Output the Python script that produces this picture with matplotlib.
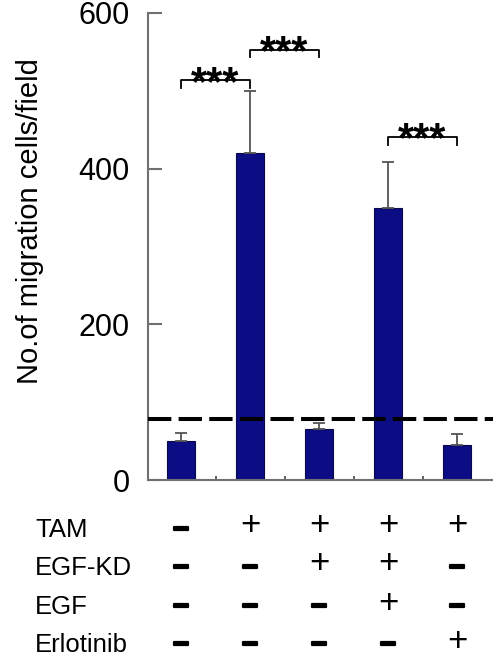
import numpy as np
import matplotlib
matplotlib.use("Agg")
import matplotlib.pyplot as plt
import matplotlib.transforms as mtransforms
import matplotlib.patheffects as pe

plt.rcParams['font.family'] = ['Liberation Sans', 'DejaVu Sans']

# data
means = [50, 420, 66, 350, 45]
errs = [10, 80, 7, 58, 14]
baseline = 78
row_names = ['TAM', 'EGF-KD', 'EGF', 'Erlotinib']
row_signs = [['-', '+', '+', '+', '+'],
             ['-', '-', '+', '+', '-'],
             ['-', '-', '-', '+', '-'],
             ['-', '-', '-', '-', '+']]
# (left bar, right bar, bracket top, leg bottom)
brackets = [(0, 1, 514, 504), (1, 2, 553, 544), (3, 4, 441, 430)]

W, H = 493, 661
fig = plt.figure(figsize=(W / 100, H / 100), dpi=100)
ax = fig.add_axes([148 / W, 1 - 480 / H, 1 - 148 / W, (480 - 13) / H])

x = np.arange(len(means))
ax.bar(x, means, width=0.4, color='#0c0c84', edgecolor='#08084a', linewidth=0.8, zorder=2)
ax.errorbar(x, means, yerr=[np.zeros(len(errs)), errs], fmt='none', ecolor='#555555',
            elinewidth=1.3, capsize=4, capthick=1.3, zorder=3)
ax.axhline(baseline, color='black', lw=2.9, linestyle=(0, (5.8, 1.8)), zorder=4)

for a, b, top, leg in brackets:
    ax.plot([a, a, b, b], [leg, top, top, leg], color='black', lw=1.3, clip_on=False)
    ax.text((a + b) / 2, top - 19, '***', ha='center', va='baseline', fontsize=30,
            fontweight='bold', clip_on=False)

ax.set_xlim(-0.48, 4.52)
ax.set_ylim(0, 600)
ax.set_yticks([0, 200, 400, 600])
ax.tick_params(axis='y', direction='in', length=10, width=1.5, color='#707070', pad=13, labelsize=22)
ax.set_xticks([])
ax.set_xticks([0.5, 1.5, 2.5, 3.5], minor=True)
ax.tick_params(axis='x', which='minor', direction='in', length=3, width=1.2, color='#444444')
for s in ['top', 'right']:
    ax.spines[s].set_visible(False)
for s in ['left', 'bottom']:
    ax.spines[s].set_color('#707070')
    ax.spines[s].set_linewidth(1.5)

fig.text(30 / W, 1 - 221 / H, 'No.of migration cells/field', rotation=90,
         ha='center', va='center', fontsize=21)

# condition table below the axis
trans = mtransforms.blended_transform_factory(ax.transData, fig.transFigure)
row_y = [530, 568, 607, 645]
thick = [pe.withStroke(linewidth=1.6, foreground='black')]
for name, signs, yy in zip(row_names, row_signs, row_y):
    fig.text(35 / W, 1 - yy / H, name, ha='left', va='center', fontsize=18.5)
    for i, s in enumerate(signs):
        if s == '+':
            ax.text(i, 1 - (yy - 4) / H, '+', transform=trans, ha='center', va='center',
                    fontsize=25)
        else:
            ax.text(i, 1 - yy / H, '\u2212', transform=trans, ha='center', va='center',
                    fontsize=21, fontweight='bold', path_effects=thick)

fig.savefig('out.png', dpi=100)
